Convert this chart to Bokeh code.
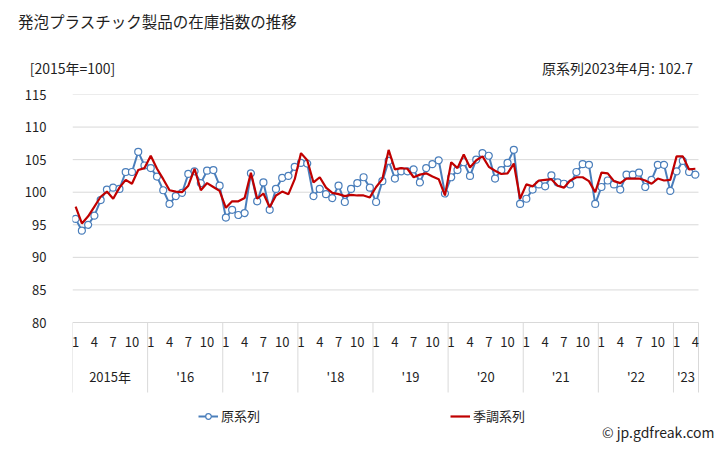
from bokeh.plotting import figure
from bokeh.models import LinearAxis, FixedTicker, Range1d, Legend, LegendItem, ColumnDataSource
from bokeh.core.properties import value
from bokeh.embed import file_html
from bokeh.resources import INLINE

# ---------------- data ----------------
title_text = "発泡プラスチック製品の在庫指数の推移"
unit_text = "[2015年=100]"
latest_text = "原系列2023年4月: 102.7"
credit_text = "© jp.gdfreak.com"
series_names = ["原系列", "季調系列"]

year_labels = ["2015年", "'16", "'17", "'18", "'19", "'20", "'21", "'22", "'23"]
months_per_year = [12, 12, 12, 12, 12, 12, 12, 12, 4]
month_tick_labels = ["1", "4", "7", "10"]
y_ticks = [80, 85, 90, 95, 100, 105, 110, 115]

original = [
    95.9, 94.1, 95.0, 96.4, 98.8, 100.4, 100.7, 100.5, 103.1, 103.1, 106.2, 104.1,
    103.7, 102.4, 100.3, 98.2, 99.4, 99.9, 102.8, 103.2, 101.4, 103.3, 103.4, 101.0,
    96.1, 97.3, 96.5, 96.8, 102.9, 98.6, 101.5, 97.3, 100.5, 102.2, 102.5, 103.9,
    104.5, 104.4, 99.4, 100.5, 99.7, 99.1, 101.0, 98.5, 100.5, 101.4, 102.3, 100.7,
    98.5, 101.7, 104.8, 102.1, 103.2, 103.2, 103.5, 101.5, 103.7, 104.3, 104.9, 99.8,
    102.3, 103.4, 104.6, 102.5, 105.0, 106.0, 105.6, 102.1, 103.4, 104.5, 106.5, 98.2,
    99.0, 100.4, 101.2, 100.9, 102.6, 101.5, 101.3, 101.2, 103.1, 104.3, 104.2, 98.2,
    100.8, 101.8, 101.2, 100.4, 102.7, 102.7, 103.0, 100.8, 101.9, 104.2, 104.2, 100.2,
    103.2, 104.8, 103.1, 102.7,
]
adjusted = [
    97.8, 95.2, 96.3, 97.8, 99.3, 100.1, 99.0, 100.7, 101.9, 101.3, 103.4, 103.7,
    105.6, 103.6, 102.0, 100.3, 100.1, 100.0, 101.0, 103.6, 100.3, 101.4, 100.8, 100.2,
    97.6, 98.6, 98.6, 99.1, 103.0, 99.0, 99.8, 97.7, 99.5, 100.1, 99.7, 102.0,
    106.0, 104.9, 101.5, 102.3, 100.7, 99.9, 99.7, 99.4, 99.6, 99.5, 99.5, 99.2,
    100.8, 102.0, 106.5, 103.5, 103.7, 103.6, 102.3, 102.7, 102.9, 102.4, 102.0, 99.5,
    104.6, 103.7, 105.8, 103.8, 104.9, 105.5, 103.9, 103.3, 102.8, 102.9, 104.4, 99.0,
    101.2, 100.9, 101.8, 101.9, 102.0, 101.0, 100.7, 101.8, 102.3, 102.3, 101.7, 100.0,
    103.0, 102.9, 101.7, 101.4, 102.1, 102.1, 102.1, 101.8, 101.3, 102.1, 101.8, 101.9,
    105.5, 105.5, 103.5, 103.6,
]

# ---------------- derived category positions ----------------
n = len(original)
idx = list(range(n))
month_ticks, month_texts = [], []
year_ticks = []
boundaries = []
start = 0
for ylab, cnt in zip(year_labels, months_per_year):
    boundaries.append(start - 0.5)
    for lab in month_tick_labels:
        if int(lab) <= cnt:
            month_ticks.append(start + int(lab) - 1)
            month_texts.append(lab)
    year_ticks.append(start + (cnt - 1) / 2)
    start += cnt
boundaries.append(start - 0.5)

FONT = "Noto Sans CJK JP"
TXT = "#1f1f1f"
GRID = "#d9d9d9"
BLUE = "#4a7ebb"
RED = "#c00000"

# ---------------- layout (page pixels) ----------------
W, H = 728, 450
FL, FR, FT, FB = 72, 698, 94, 322        # data area: 80..115 and months -0.5..n-0.5
Y0, Y1 = y_ticks[0], y_ticks[-1]
ppu = (FB - FT) / (Y1 - Y0)              # pixels per index point
ppm = (FR - FL) / n                      # pixels per month

def yv(py):   # page y -> value
    return Y1 - (py - FT) / ppu

def xv(px):   # page x -> month index
    return -0.5 + (px - FL) / ppm

# the frame extends to the right and bottom page edges so that the
# category labels, separators, legend and credit can live inside it
p = figure(width=W, height=H, output_backend="svg", toolbar_location=None, title=None,
           x_axis_type=None, x_range=Range1d(xv(FL), xv(W)), y_range=Range1d(yv(H), yv(FT)),
           min_border_left=FL, min_border_right=0, min_border_top=FT, min_border_bottom=0)
p.outline_line_color = None
p.extra_x_ranges = {"page": Range1d(FL, W)}

p.yaxis.ticker = FixedTicker(ticks=y_ticks)
p.yaxis.axis_line_color = None
p.yaxis.major_tick_line_color = None
p.yaxis.minor_tick_line_color = None
p.yaxis.major_label_standoff = 20
p.yaxis.major_label_text_font = FONT
p.yaxis.major_label_text_font_size = "13px"
p.yaxis.major_label_text_color = TXT
p.grid.visible = False

# horizontal grid lines over the data area only
p.segment(x0=[xv(FL)] * len(y_ticks), x1=[xv(FR)] * len(y_ticks), y0=y_ticks, y1=y_ticks,
          line_color=GRID, line_width=1)
# year separators below the plot area
p.segment(x0=boundaries, x1=boundaries, y0=[Y0] * len(boundaries), y1=[yv(392)] * len(boundaries),
          line_color=GRID, line_width=1)

# category labels
p.text(x=month_ticks, y=[yv(341)] * len(month_ticks), text=month_texts, text_font=value(FONT),
       text_font_size="13px", text_color=TXT, text_align="center", text_baseline="middle")
p.text(x=year_ticks, y=[yv(376)] * len(year_ticks), text=year_labels, text_font=value(FONT),
       text_font_size="13px", text_color=TXT, text_align="center", text_baseline="middle")
p.text(x=[xv(714)], y=[yv(431)], text=[credit_text], text_font=value(FONT),
       text_font_size="14px", text_color=TXT, text_align="right", text_baseline="middle")

def header_axis(ticks, overrides, standoff, size):
    ax = LinearAxis(ticker=FixedTicker(ticks=ticks, minor_ticks=[]), major_label_overrides=overrides,
                    x_range_name="page")
    ax.axis_line_color = None
    ax.major_tick_line_color = None
    ax.minor_tick_line_color = None
    ax.major_tick_out = 0
    ax.major_tick_in = 0
    ax.minor_tick_out = 0
    ax.major_label_standoff = standoff
    ax.major_label_text_font = FONT
    ax.major_label_text_font_size = size
    ax.major_label_text_color = TXT
    return ax

hdr_pos = [FL, 617]
p.add_layout(header_axis(hdr_pos, {hdr_pos[0]: unit_text, hdr_pos[1]: latest_text}, 17, "14px"), "above")
ttl_pos = [157]
p.add_layout(header_axis(ttl_pos, {ttl_pos[0]: title_text}, 23, "15.5px"), "above")

# ---- series
src = ColumnDataSource(dict(x=idx, orig=original, adj=adjusted))
bl = p.line("x", "orig", source=src, line_color=BLUE, line_width=2)
bp = p.scatter("x", "orig", source=src, marker="circle", size=7, fill_color="white",
               line_color=BLUE, line_width=1.2)
rl = p.line("x", "adj", source=src, line_color=RED, line_width=2.2)

legend = Legend(items=[LegendItem(label=series_names[0], renderers=[bl, bp]),
                       LegendItem(label=series_names[1], renderers=[rl])],
                orientation="horizontal", location=(198 - FL, H - 425), spacing=190,
                padding=0, margin=0, border_line_color=None, background_fill_alpha=0,
                label_text_font=FONT, label_text_font_size="13px", label_text_color=TXT,
                glyph_width=20, glyph_height=14, label_height=18, label_standoff=3)
p.add_layout(legend)

open("out.html", "w").write(file_html(p, INLINE))
